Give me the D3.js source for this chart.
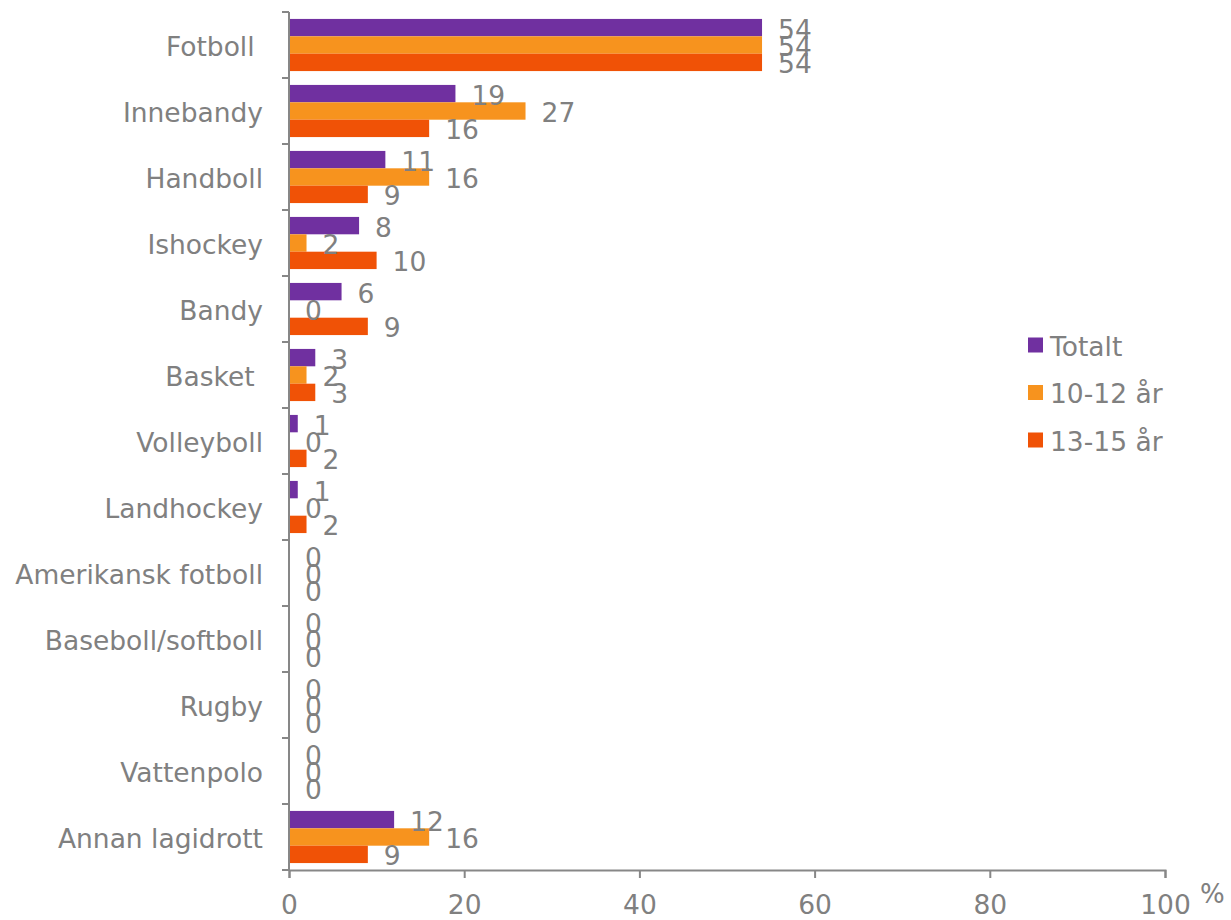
<!DOCTYPE html>
<meta charset="utf-8">
<title>Lagidrott</title>
<script src="https://d3js.org/d3.v7.min.js"></script>
<style>
  body { margin: 0; background: #fff; }
  text { font-family: "DejaVu Sans", Verdana, sans-serif; fill: #808080; }
</style>
<body>
<script>

var w = 1231
var h = 920

// data
var categories = ["Fotboll ", "Innebandy", "Handboll", "Ishockey", "Bandy", "Basket ",
  "Volleyboll", "Landhockey", "Amerikansk fotboll", "Baseboll/softboll", "Rugby",
  "Vattenpolo", "Annan lagidrott"];
var seriesNames = ["Totalt", "10-12 år", "13-15 år"];
var totalt = [54, 19, 11, 8, 6, 3, 1, 1, 0, 0, 0, 0, 12];
var age10_12 = [54, 27, 16, 2, 0, 2, 0, 0, 0, 0, 0, 0, 16];
var age13_15 = [54, 16, 9, 10, 9, 3, 2, 2, 0, 0, 0, 0, 9];
var xTicks = [0, 20, 40, 60, 80, 100];
var colors = ["#7030a0", "#f7931e", "#f05206"];

var values = [totalt, age10_12, age13_15];

var svg = d3.select("body")
  .append("svg")
  .attr("width", w)
  .attr("height", h);

var pLeft = 289, pRight = 1165, pTop = 12, pBottom = 870;
var fs = "26.5px";

var x = d3.scaleLinear().domain([0, 100]).range([pLeft, pRight]);
var y = d3.scaleBand().domain(d3.range(categories.length)).range([pTop, pBottom])
  .paddingInner(0.21).paddingOuter(0.105);
var ySub = d3.scaleBand().domain(d3.range(seriesNames.length)).range([0, y.bandwidth()]);
var step = y.step();

// bars
var groups = svg.append("g")
  .selectAll("g")
  .data(categories)
  .enter()
  .append("g")
    .attr("transform", function(d, i) { return "translate(0," + y(i) + ")"; });

groups.selectAll("rect")
  .data(function(d, i) { return values.map(function(s, k) { return {k: k, v: s[i]}; }); })
  .enter()
  .append("rect")
    .attr("x", x(0))
    .attr("y", function(d) { return ySub(d.k); })
    .attr("width", function(d) { return x(d.v) - x(0); })
    .attr("height", ySub.bandwidth())
    .attr("fill", function(d) { return colors[d.k]; });

groups.selectAll("text")
  .data(function(d, i) { return values.map(function(s, k) { return {k: k, v: s[i]}; }); })
  .enter()
  .append("text")
    .attr("x", function(d) { return x(d.v) + 16; })
    .attr("y", function(d) { return ySub(d.k) + ySub.bandwidth() / 2 + 1.5; })
    .attr("dominant-baseline", "central")
    .style("font-size", fs)
    .text(function(d) { return d.v; });

// category labels
svg.append("g")
  .selectAll("text")
  .data(categories)
  .enter()
  .append("text")
    .attr("x", 263)
    .attr("y", function(d, i) { return y(i) + y.bandwidth() / 2 + 1; })
    .attr("text-anchor", "end")
    .attr("dominant-baseline", "central")
    .style("font-size", fs)
    .style("white-space", "pre")
    .text(function(d) { return d; });

// y axis: line + ticks between categories
var axisColor = "#878787";
svg.append("line")
  .attr("x1", pLeft).attr("x2", pLeft)
  .attr("y1", pTop).attr("y2", pBottom)
  .attr("stroke", axisColor).attr("stroke-width", 2);
svg.append("g")
  .selectAll("line")
  .data(d3.range(categories.length + 1))
  .enter()
  .append("line")
    .attr("x1", pLeft - 7).attr("x2", pLeft)
    .attr("y1", function(i) { return pTop + i * step; })
    .attr("y2", function(i) { return pTop + i * step; })
    .attr("stroke", axisColor).attr("stroke-width", 2);

// x axis
var xAxis = svg.append("g")
  .attr("transform", "translate(0," + pBottom + ")")
  .call(d3.axisBottom(x).tickValues(xTicks).tickSize(8).tickPadding(17));
xAxis.select(".domain").attr("stroke", axisColor).attr("stroke-width", 2);
xAxis.selectAll(".tick line").attr("stroke", axisColor).attr("stroke-width", 2);
xAxis.selectAll(".tick text")
  .attr("fill", "#808080")
  .style("font-family", "'DejaVu Sans', Verdana, sans-serif")
  .style("font-size", fs);

svg.append("text")
  .attr("x", 1200)
  .attr("y", 903)
  .style("font-size", "26px")
  .text("%");

// legend
var legend = svg.append("g")
  .selectAll("g")
  .data(seriesNames)
  .enter()
  .append("g")
    .attr("transform", function(d, i) { return "translate(1028," + (345 + i * 47.5) + ")"; });
legend.append("rect")
  .attr("x", 0).attr("y", -7.5)
  .attr("width", 15).attr("height", 15)
  .attr("fill", function(d, i) { return colors[i]; });
legend.append("text")
  .attr("x", 22)
  .attr("y", 1)
  .attr("dominant-baseline", "central")
  .style("font-size", fs)
  .text(function(d) { return d; });

</script>
</body>
